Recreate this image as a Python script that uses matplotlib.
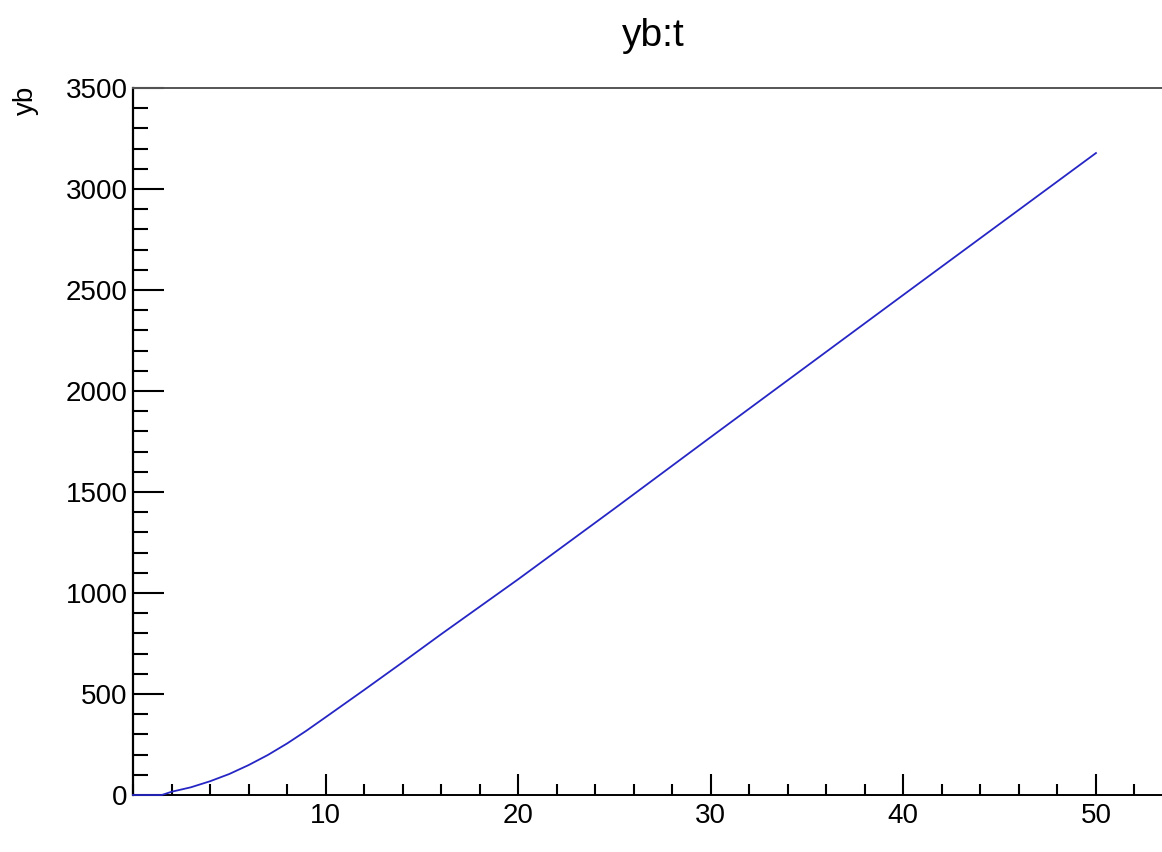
import matplotlib.pyplot as plt
from matplotlib.ticker import MultipleLocator

t = [0, 1.5, 2, 3, 4, 5, 6, 7, 8, 9, 10, 12, 14, 16, 18, 20, 25, 30, 35, 40, 45, 50]
yb = [0, 0, 16, 38, 68, 104, 148, 198, 255, 318, 385, 520, 657, 796, 932, 1068,
      1418, 1772, 2124, 2476, 2827, 3178]

plt.rcParams['font.family'] = ['Liberation Sans', 'DejaVu Sans']

fig = plt.figure(figsize=(11.62, 8.52), dpi=100)
ax = fig.add_axes([133 / 1162, 57 / 852, 1040 / 1162, 707 / 852])

# la curva va por encima del eje (como en ROOT)
ax.plot(t, yb, color='#2626c4', lw=1.3, zorder=3, clip_on=False)

ax.set_xlim(0, 54)
ax.set_ylim(0, 3500)

# ticks estilo ROOT: hacia adentro, solo abajo e izquierda
ax.xaxis.set_major_locator(MultipleLocator(10))
ax.xaxis.set_minor_locator(MultipleLocator(2))
ax.yaxis.set_major_locator(MultipleLocator(500))
ax.yaxis.set_minor_locator(MultipleLocator(100))
ax.tick_params(axis='x', which='major', direction='in', length=15, width=1.5, labelsize=20, pad=6)
ax.tick_params(axis='x', which='minor', direction='in', length=8, width=1.5)
ax.tick_params(axis='y', which='major', direction='in', length=22, width=1.5, labelsize=20, pad=4)
ax.tick_params(axis='y', which='minor', direction='in', length=11, width=1.5)
ax.set_xticks([10, 20, 30, 40, 50])

ax.spines['left'].set_linewidth(1.6)
ax.spines['bottom'].set_linewidth(1.4)
ax.spines['top'].set_linewidth(1.4)
ax.spines['top'].set_color('#555555')
ax.spines['right'].set_visible(False)

ax.set_title('yb:t', fontsize=28, pad=30)
fig.text(26 / 1162, 1 - 86 / 852, 'yb', rotation=90, ha='center', va='top', fontsize=20)

fig.savefig('out.png', dpi=100)
